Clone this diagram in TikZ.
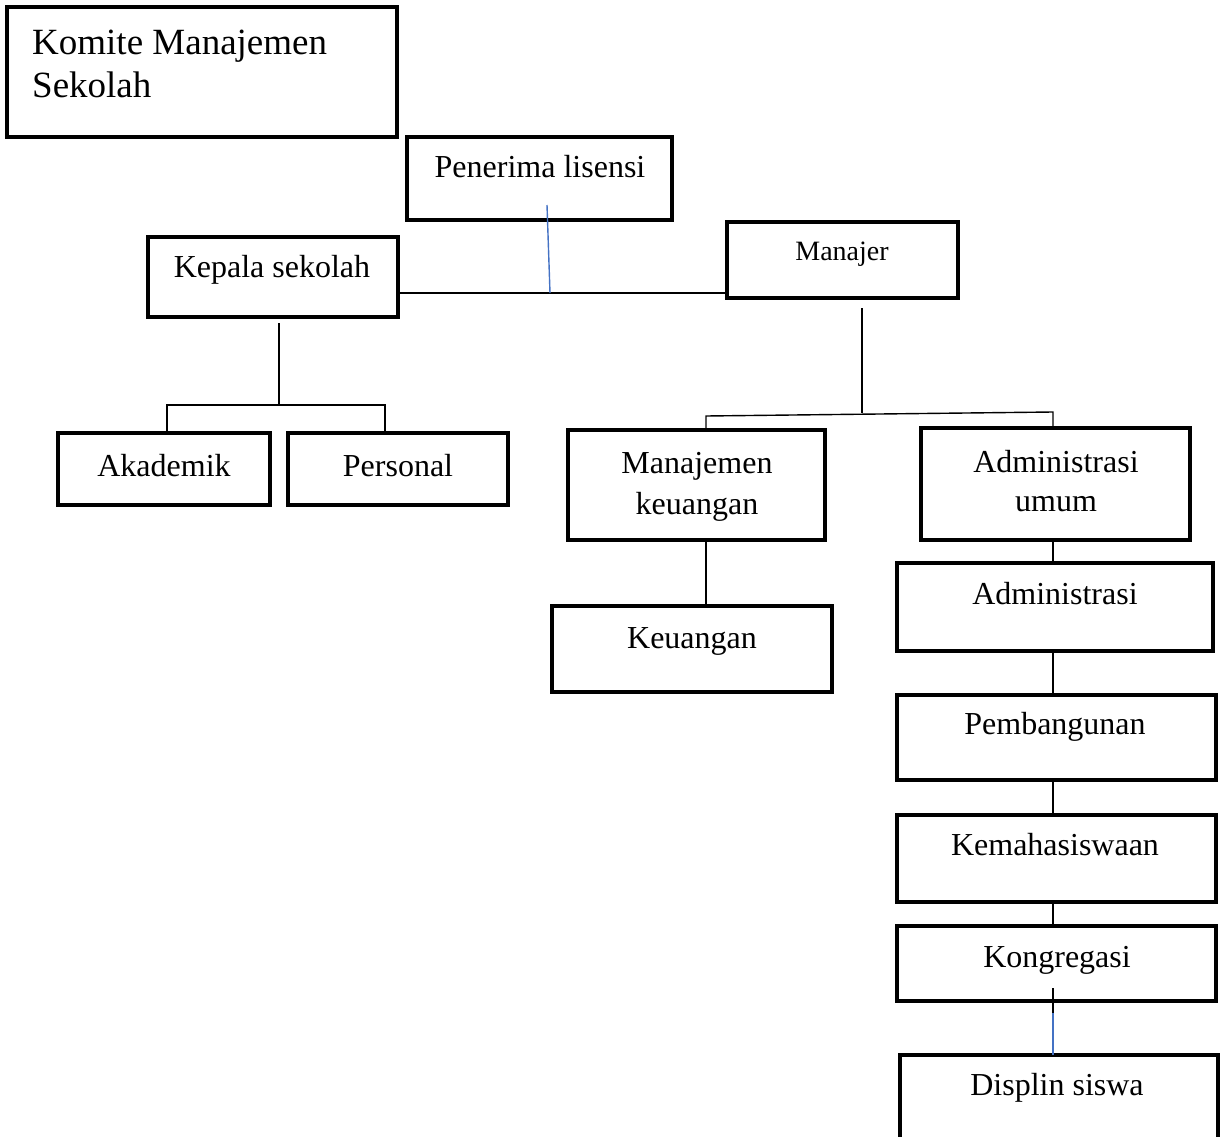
\documentclass[tikz,border=0pt]{standalone}
\usepackage{fontspec}
\setmainfont{Liberation Serif}
\usetikzlibrary{calc}
\definecolor{wordblue}{RGB}{68,114,196}
\begin{document}
\begin{tikzpicture}[x=1pt,y=-1pt,
  bx/.style={draw=black,line width=4.6pt,inner sep=0pt,outer sep=0pt,anchor=north west},
  lbl/.style={inner sep=0pt,anchor=base,font=\fontsize{32}{38}\selectfont},
  conn/.style={draw=black,line width=1.4pt},
  bconn/.style={draw=wordblue,line width=1.4pt}]
\useasboundingbox (0,0) rectangle (1224,1137);
\clip (0,0) rectangle (1224,1137);
% boxes
\node[bx,minimum width=390pt,minimum height=130pt] (komite) at (7,7) {};
\node[bx,minimum width=265pt,minimum height=83pt] (pen) at (407,137) {};
\node[bx,minimum width=250pt,minimum height=80pt] (kep) at (148,237) {};
\node[bx,minimum width=231pt,minimum height=76pt] (man) at (727,222) {};
\node[bx,minimum width=212pt,minimum height=72pt] (akad) at (58,433) {};
\node[bx,minimum width=220pt,minimum height=72pt] (pers) at (288,433) {};
\node[bx,minimum width=257pt,minimum height=110pt] (mk) at (568,430) {};
\node[bx,minimum width=269pt,minimum height=112pt] (au) at (921,428) {};
\node[bx,minimum width=280pt,minimum height=86pt] (keu) at (552,606) {};
\node[bx,minimum width=316pt,minimum height=88pt] (adm) at (897,563) {};
\node[bx,minimum width=319pt,minimum height=85pt] (pem) at (897,695) {};
\node[bx,minimum width=319pt,minimum height=87pt] (kem) at (897,815) {};
\node[bx,minimum width=319pt,minimum height=75pt] (kon) at (897,926) {};
\node[bx,minimum width=318pt,minimum height=110pt] (dis) at (900,1055) {};
% labels
\node[lbl,anchor=base west,font=\fontsize{37}{42}\selectfont] (tkom1) at (32,55) {Komite Manajemen};
\node[lbl,anchor=base west,font=\fontsize{37}{42}\selectfont] (tkom2) at (32,98) {Sekolah};
\node[lbl] (tpen) at (540,178) {Penerima lisensi};
\node[lbl] (tkep) at (272,277) {Kepala sekolah};
\node[lbl,font=\fontsize{28}{34}\selectfont] (tman) at (842,260) {Manajer};
\node[lbl] (takad) at (164,476) {Akademik};
\node[lbl] (tpers) at (398,476) {Personal};
\node[lbl] (tmk1) at (697,473) {Manajemen};
\node[lbl] (tmk2) at (697,514) {keuangan};
\node[lbl] (tau1) at (1056,472) {Administrasi};
\node[lbl] (tau2) at (1056,511) {umum};
\node[lbl] (tkeu) at (692,648) {Keuangan};
\node[lbl] (tadm) at (1055,604) {Administrasi};
\node[lbl] (tpem) at (1055,734) {Pembangunan};
\node[lbl] (tkem) at (1055,855) {Kemahasiswaan};
\node[lbl] (tkon) at (1057,967) {Kongregasi};
\node[lbl] (tdis) at (1057,1095) {Displin siswa};
% connector coordinates
\coordinate (j1) at (550,293);
\coordinate (pb) at (547,205);
\coordinate (kt) at (279,323);
\coordinate (kj) at (279,405);
\coordinate (ka) at (167,405);
\coordinate (kp) at (385,405);
\coordinate (mt) at (862,308);
\coordinate (mj) at (862,413);
\coordinate (ml) at (706,416);
\coordinate (mr) at (1053,412);
\coordinate (kk) at (706,540);
\coordinate (cx) at (1053,540);
\coordinate (kb) at (1053,988);
\coordinate (kbm) at (1053,1013);
% connectors
\draw[conn] (kep.east |- j1) -- (man.west |- j1);
\draw[bconn] (pb) -- (j1);
\draw[conn] (kt) -- (kj);
\draw[conn] (ka |- akad.north) -- (ka) -- (kp) -- (kp |- pers.north);
\draw[conn] (mt) -- (mj);
\draw[conn] (ml |- mk.north) -- (ml) -- (mr) -- (mr |- au.north);
\draw[conn] (kk |- mk.south) -- (kk |- keu.north);
\draw[conn] (cx |- au.south) -- (cx |- adm.north);
\draw[conn] (cx |- adm.south) -- (cx |- pem.north);
\draw[conn] (cx |- pem.south) -- (cx |- kem.north);
\draw[conn] (cx |- kem.south) -- (cx |- kon.north);
\draw[conn] (kb) -- (kbm);
\draw[bconn] (kbm) -- (kbm |- dis.north);
\end{tikzpicture}
\end{document}
